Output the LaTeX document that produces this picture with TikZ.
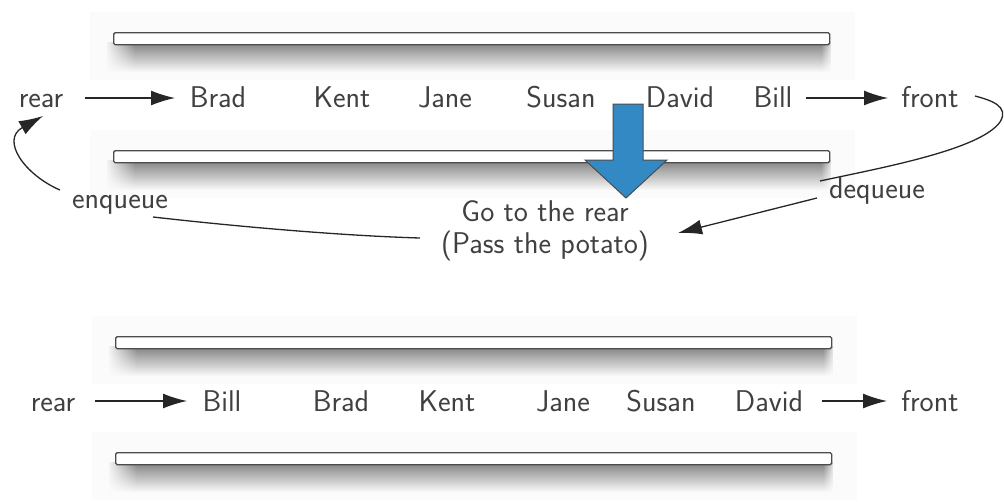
\documentclass[tikz,border=0pt]{standalone}
\usepackage{fontspec}
\usetikzlibrary{arrows.meta,calc,fadings}
\definecolor{txt}{HTML}{404040}
\definecolor{blu}{HTML}{3389C4}
\begin{document}
\begin{tikzpicture}[x=1pt,y=-1pt,
  lbl/.style={font=\sffamily\fontsize{30}{32}\selectfont, text=txt, inner sep=2pt, anchor=base},
  conn/.style={line width=1.3pt, black!85},
  tip/.style={-{Latex[length=24pt,width=15pt]}},
  barbox/.style={draw=black!70, fill=white, line width=1.4pt, rounded corners=1.5pt}]
\useasboundingbox (0,0) rectangle (1004,501);
% frames and bars
\newcommand{\qbar}[3]{%
  \fill[black!1.5] (#1-23,#3-20) rectangle (#2+26,#3+48);
  \fill[black!50, path fading=south] (#1-6,#3+10) rectangle (#2+2,#3+40);
  \fill[black!1.5, path fading=east] (#1-8,#3+8) rectangle (#1+22,#3+42);
  \fill[black!1.5, path fading=west] (#2-8,#3+8) rectangle (#2+4,#3+42);
  \node[barbox, minimum width=#2-#1, minimum height=12pt, anchor=north west] at (#1,#3) {};}
\qbar{113}{829}{32}
\qbar{113}{829}{150}
\qbar{115}{831}{336}
\qbar{115}{831}{452}
% row 1
\node[lbl] (r1) at (41,107) {rear};
\node[lbl] (a1) at (218,107) {Brad};
\node[lbl] (a2) at (342,107) {Kent};
\node[lbl] (a3) at (445,107) {Jane};
\node[lbl] (a4) at (561,107) {Susan};
\node[lbl] (a5) at (680,107) {David};
\node[lbl] (a6) at (773,107) {Bill};
\node[lbl] (f1) at (930,107) {front};
\draw[conn,tip] (85,98) -- (175,98);
\draw[conn,tip] (806,98) -- (888,98);
% blue arrow
\draw[fill=blu, draw=black!70, line width=1pt] (613,104) -- (643,104) -- (643,160) -- (667,160) -- (626,198) -- (585,160) -- (613,160) -- cycle;
% labels
\node[lbl] (enq) at (120,208) {enqueue};
\node[lbl] (deq) at (877,198) {dequeue};
\node[lbl, anchor=center, align=center] (go) at (545,231) {Go to the rear\\(Pass the potato)};
% connectors
\draw[conn,tip] ($(enq.base)+(-60,-18)$) .. controls (25,175) and (0,140) .. ($(r1.base)+(2,9)$);
\draw[conn] ($(enq.base)+(33,9)$) .. controls (250,228) and (350,236) .. ($(go.center)+(-125,7)$);
\draw[conn] ($(f1.base)+(45,-11)$) .. controls (990,100) and (1010,106) .. (1000,122) .. controls (980,150) and (880,168) .. ($(deq.base)+(-57,-17)$);
\draw[conn,tip] ($(deq.base)+(-60,0)$) -- ($(go.center)+(133,2)$);
% row 2
\node[lbl] (r2) at (53,411) {rear};
\node[lbl] (b1) at (222,411) {Bill};
\node[lbl] (b2) at (341,411) {Brad};
\node[lbl] (b3) at (447,411) {Kent};
\node[lbl] (b4) at (563,411) {Jane};
\node[lbl] (b5) at (661,411) {Susan};
\node[lbl] (b6) at (769,411) {David};
\node[lbl] (f2) at (930,411) {front};
\draw[conn,tip] (95,401) -- (187,401);
\draw[conn,tip] (822,401) -- (887,401);
\end{tikzpicture}
\end{document}
